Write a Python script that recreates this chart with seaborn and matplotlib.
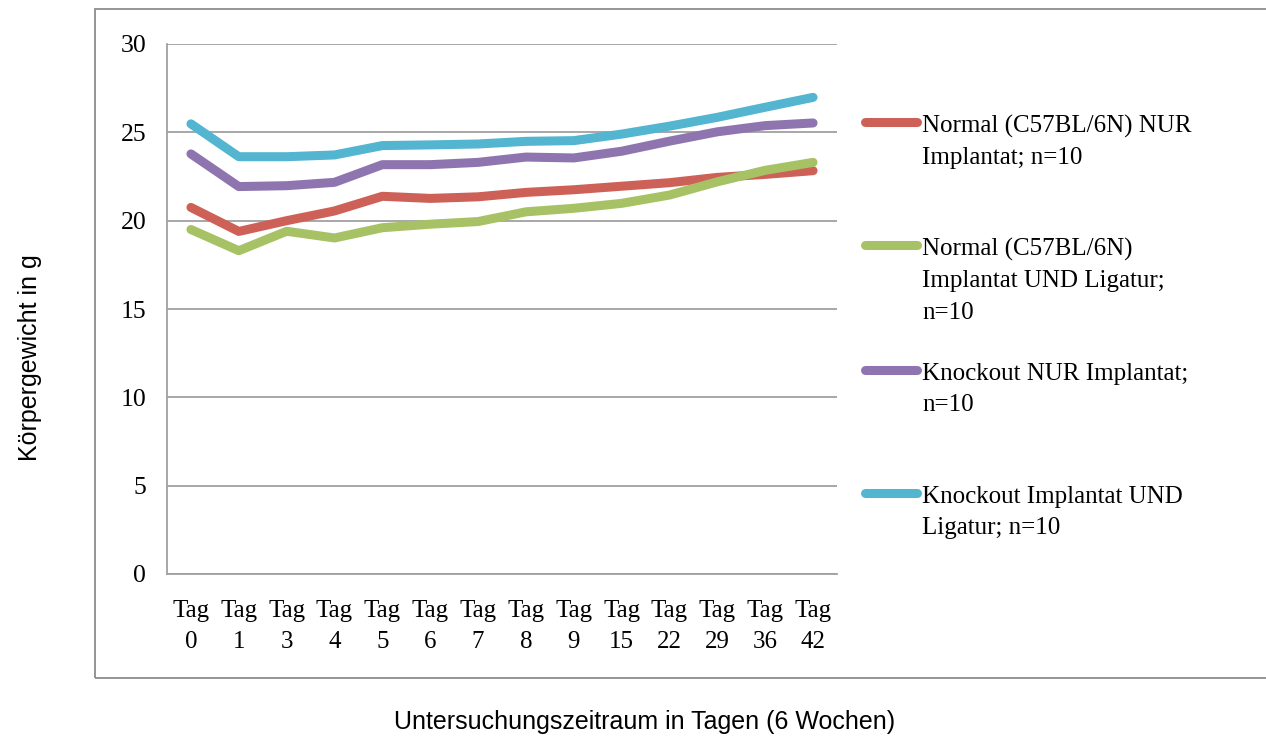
import matplotlib
matplotlib.use("Agg")
import matplotlib.pyplot as plt
from matplotlib.lines import Line2D
from matplotlib.patches import Rectangle
import seaborn as sns
import pandas as pd
import numpy as np

days = ["Tag\n0", "Tag\n1", "Tag\n3", "Tag\n4", "Tag\n5", "Tag\n6", "Tag\n7",
        "Tag\n8", "Tag\n9", "Tag\n15", "Tag\n22", "Tag\n29", "Tag\n36", "Tag\n42"]
normal_nur = [20.75, 19.39, 20.0, 20.55, 21.38, 21.26, 21.35, 21.6, 21.75, 21.95, 22.15, 22.45, 22.62, 22.83]
normal_lig = [19.5, 18.3, 19.4, 19.02, 19.6, 19.8, 19.95, 20.5, 20.7, 20.98, 21.45, 22.2, 22.85, 23.3]
ko_nur = [23.78, 21.93, 21.98, 22.17, 23.17, 23.17, 23.3, 23.6, 23.55, 23.93, 24.5, 25.03, 25.38, 25.53]
ko_lig = [25.48, 23.62, 23.62, 23.72, 24.25, 24.29, 24.34, 24.49, 24.53, 24.9, 25.35, 25.85, 26.42, 26.98]

series_names = ["Normal (C57BL/6N) NUR\nImplantat; n=10",
                "Normal (C57BL/6N)\nImplantat UND Ligatur;\nn=10",
                "Knockout NUR Implantat;\nn=10",
                "Knockout Implantat UND\nLigatur; n=10"]
colors = ["#CD6158", "#A7C264", "#8E75AF", "#53B5CF"]

rows = []
for name, vals in zip(series_names, [normal_nur, normal_lig, ko_nur, ko_lig]):
    for d, v in zip(days, vals):
        rows.append({"Tag": d, "Gewicht": v, "Gruppe": name})
df = pd.DataFrame(rows)

sns.set_style("white")
plt.rcParams['font.family'] = ['Liberation Serif', 'DejaVu Serif']
plt.rcParams['text.color'] = 'black'
plt.rcParams['xtick.labelcolor'] = 'black'
plt.rcParams['ytick.labelcolor'] = 'black'

W, H = 1266, 738
fig = plt.figure(figsize=(W / 100, H / 100), dpi=100)
ax = fig.add_axes([167 / W, 1 - 574 / H, (837 - 167) / W, (574 - 44) / H])

sns.lineplot(data=df, x="Tag", y="Gewicht", hue="Gruppe", palette=colors,
             hue_order=series_names, sort=False, linewidth=6.5, legend=False, ax=ax)
for ln in ax.lines:
    ln.set_solid_capstyle("round")
    ln.set_solid_joinstyle("round")

ax.set_xlim(-0.5, len(days) - 0.5)
ax.set_ylim(0, 30)
ax.set_yticks(np.arange(0, 31, 5))
ax.yaxis.grid(True, color="#a0a0a0", linewidth=1.3)
ax.set_axisbelow(True)
for s in ["top", "right"]:
    ax.spines[s].set_visible(False)
for s in ["left", "bottom"]:
    ax.spines[s].set_color("#a0a0a0")
    ax.spines[s].set_linewidth(1.3)

ax.set_xticks(range(len(days)))
ax.set_xticklabels(days, fontsize=18, linespacing=1.5, color="black")
ax.set_xticks(np.arange(-0.5, len(days), 1.0), minor=True)
ax.tick_params(axis="x", which="major", length=0, pad=19)
ax.tick_params(axis="x", which="minor", length=6, width=1.3, color="#a0a0a0", direction="out")
ax.tick_params(axis="y", length=8, width=1.3, color="#a0a0a0", labelsize=18.5, pad=7,
               labelcolor="black")
ax.set_xlabel("")
ax.set_ylabel("")

fig.text(30 / W, 1 - 358 / H, "Körpergewicht in g", rotation=90, ha="center", va="center",
         fontsize=18, family="Liberation Sans", color="black")
fig.text(645 / W, 1 - 722 / H, "Untersuchungszeitraum in Tagen (6 Wochen)", ha="center",
         va="center", fontsize=18, family="Liberation Sans", color="black")

# legend
leg_y = [122, 245, 370, 493]
for name, c, yy in zip(series_names, colors, leg_y):
    fig.add_artist(Line2D([865 / W, 917 / W], [1 - yy / H, 1 - yy / H], color=c,
                          linewidth=6.5, solid_capstyle="round"))
    fig.text(922 / W, 1 - (yy - 7) / H, name, ha="left", va="top", fontsize=18,
             linespacing=1.55, color="black")

# outer frame
fig.add_artist(Rectangle((95 / W, 1 - 678 / H), (W + 20 - 95) / W, (678 - 9) / H,
                         transform=fig.transFigure, fill=False, edgecolor="#8c8c8c",
                         linewidth=1.3, clip_on=False))

fig.savefig("out.png", dpi=100)
